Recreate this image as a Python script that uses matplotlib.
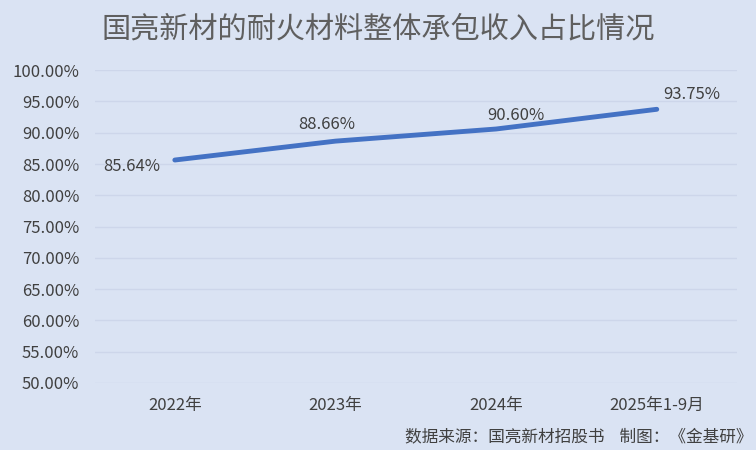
import matplotlib
matplotlib.use("Agg")
import matplotlib.pyplot as plt
from matplotlib.ticker import FuncFormatter

plt.rcParams['font.family'] = ['Noto Sans CJK SC', 'DejaVu Sans']

categories = ["2022年", "2023年", "2024年", "2025年1-9月"]
values = [85.64, 88.66, 90.60, 93.75]
yticks = [50, 55, 60, 65, 70, 75, 80, 85, 90, 95, 100]
title = "国亮新材的耐火材料整体承包收入占比情况"
source = "数据来源：国亮新材招股书    制图：《金基研》"

bg = "#DAE3F3"
fig = plt.figure(figsize=(7.56, 4.5), dpi=100, facecolor=bg)
ax = fig.add_axes([0.125, 0.149, 0.85, 0.695], facecolor=bg)

x = list(range(len(categories)))
ax.plot(x, values, color="#4472C4", linewidth=3.5, solid_capstyle="round",
        solid_joinstyle="round", zorder=3)

offsets = [(-31, -5), (-6, 12), (14, 10), (25, 11)]
for xi, v, (dx, dy) in zip(x, values, offsets):
    ax.annotate(f"{v:.2f}%", (xi, v), xytext=(dx, dy), textcoords="offset points",
                ha="center", va="center", fontsize=12, color="#404040")

ax.set_xlim(-0.5, len(categories) - 0.5)
ax.set_ylim(50, 100)
ax.set_yticks(yticks)
ax.yaxis.set_major_formatter(FuncFormatter(lambda v, p: f"{v:.2f}%"))
ax.set_xticks(x)
ax.set_xticklabels(categories)
ax.tick_params(axis="both", length=0, labelsize=12, labelcolor="#404040")
ax.tick_params(axis="y", pad=11)
ax.tick_params(axis="x", pad=10)
ax.grid(axis="y", color="#CDD6EA", linewidth=1)
ax.set_axisbelow(True)
for s in ax.spines.values():
    s.set_visible(False)

fig.text(0.5, 0.934, title, ha="center", va="center", fontsize=21, color="#5f5f5f")
fig.text(0.995, 0.03, source, ha="right", va="center", fontsize=12, color="#404040")

fig.savefig("out.png", dpi=100, facecolor=bg)
